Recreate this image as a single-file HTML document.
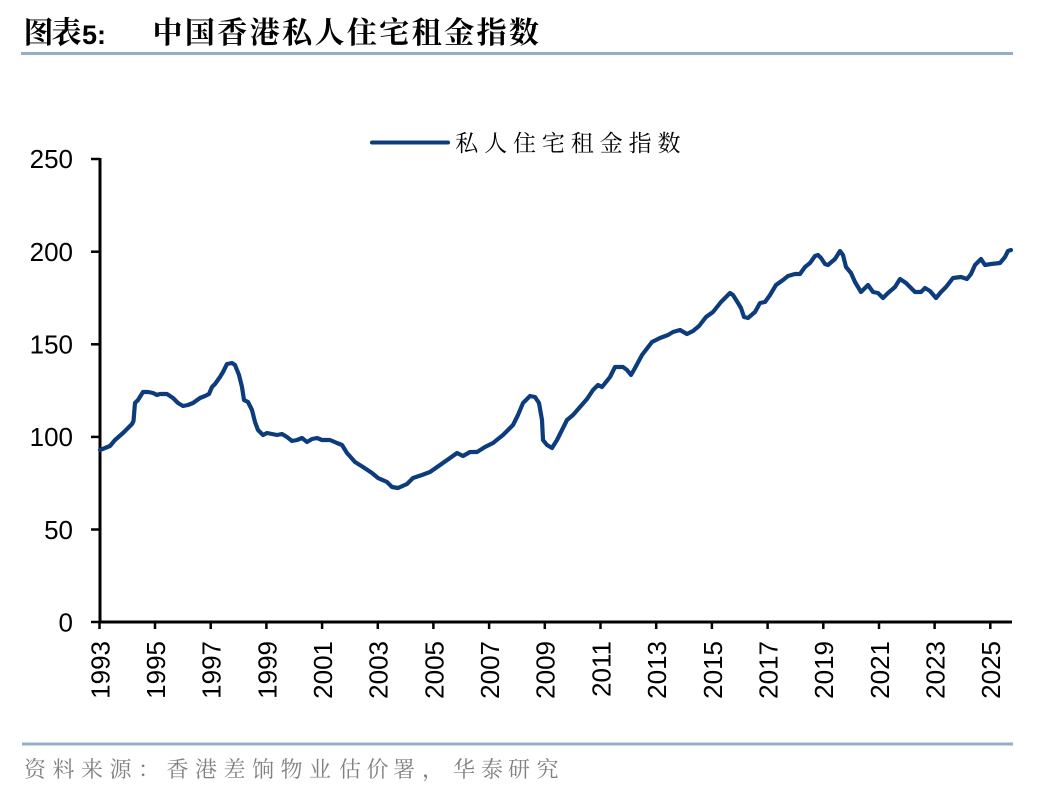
<!DOCTYPE html>
<html>
<head>
<meta charset="utf-8">
<style>
  html,body{margin:0;padding:0;background:#fff;}
  body{width:1048px;height:792px;overflow:hidden;}
  svg{display:block;}
  .cjkT{font-family:"Noto Serif CJK SC","Noto Sans CJK SC",serif;font-weight:700;font-size:30px;fill:#000;}
  .lat{font-family:"Liberation Sans",Arial,sans-serif;}
  .lg{font-family:"Noto Serif CJK SC","Noto Sans CJK SC",serif;font-size:23px;fill:#000;}
  .src{font-family:"Noto Serif CJK SC","Noto Sans CJK SC",serif;font-size:22px;fill:#808080;}
  .ax{font-family:"Liberation Sans",Arial,sans-serif;font-size:26px;fill:#000;}
</style>
</head>
<body>
<svg width="1048" height="792" viewBox="0 0 1048 792" xmlns="http://www.w3.org/2000/svg">
  <!-- Title -->
  <g class="cjkT" text-anchor="middle">
    <text x="38.5" y="43">图</text>
    <text x="66.5" y="43">表</text>
  </g>
  <text x="82" y="44" class="lat" font-weight="700" font-size="27">5:</text>
  <g class="cjkT" text-anchor="middle">
    <text x="167.5" y="43">中</text>
    <text x="199.9" y="43">国</text>
    <text x="232.3" y="43">香</text>
    <text x="264.7" y="43">港</text>
    <text x="297.1" y="43">私</text>
    <text x="329.5" y="43">人</text>
    <text x="361.9" y="43">住</text>
    <text x="394.3" y="43">宅</text>
    <text x="426.7" y="43">租</text>
    <text x="459.1" y="43">金</text>
    <text x="491.5" y="43">指</text>
    <text x="523.9" y="43">数</text>
  </g>
  <line x1="21" y1="53.5" x2="1013" y2="53.5" stroke="#97aec9" stroke-width="3"/>

  <!-- Legend -->
  <line x1="372" y1="142.5" x2="448" y2="142.5" stroke="#0c3c7c" stroke-width="4" stroke-linecap="round"/>
  <g class="lg" text-anchor="middle">
    <text x="466.7" y="151">私</text>
    <text x="495.6" y="151">人</text>
    <text x="524.5" y="151">住</text>
    <text x="553.4" y="151">宅</text>
    <text x="582.3" y="151">租</text>
    <text x="611.2" y="151">金</text>
    <text x="640.1" y="151">指</text>
    <text x="669" y="151">数</text>
  </g>

  <!-- Axes -->
  <line x1="100" y1="158" x2="100" y2="623.5" stroke="#000" stroke-width="3"/>
  <line x1="98.5" y1="622" x2="1012" y2="622" stroke="#000" stroke-width="3"/>
  <g stroke="#000" stroke-width="2.5">
    <line x1="91" y1="159" x2="100" y2="159"/>
    <line x1="91" y1="251.7" x2="100" y2="251.7"/>
    <line x1="91" y1="344.3" x2="100" y2="344.3"/>
    <line x1="91" y1="436.9" x2="100" y2="436.9"/>
    <line x1="91" y1="529.5" x2="100" y2="529.5"/>
    <line x1="91" y1="622" x2="100" y2="622"/>
  </g>
  <g class="ax" text-anchor="end">
    <text x="73" y="168">250</text>
    <text x="73" y="261">200</text>
    <text x="73" y="353.5">150</text>
    <text x="73" y="446">100</text>
    <text x="73" y="539">50</text>
    <text x="73" y="631.5">0</text>
  </g>
  <!-- X ticks -->
  <g stroke="#000" stroke-width="2.5">
    <line x1="99.5" y1="622" x2="99.5" y2="629"/>
    <line x1="155" y1="622" x2="155" y2="629"/>
    <line x1="210.7" y1="622" x2="210.7" y2="629"/>
    <line x1="266.4" y1="622" x2="266.4" y2="629"/>
    <line x1="322.1" y1="622" x2="322.1" y2="629"/>
    <line x1="377.8" y1="622" x2="377.8" y2="629"/>
    <line x1="433.4" y1="622" x2="433.4" y2="629"/>
    <line x1="489.1" y1="622" x2="489.1" y2="629"/>
    <line x1="544.8" y1="622" x2="544.8" y2="629"/>
    <line x1="600.5" y1="622" x2="600.5" y2="629"/>
    <line x1="656.2" y1="622" x2="656.2" y2="629"/>
    <line x1="711.9" y1="622" x2="711.9" y2="629"/>
    <line x1="767.6" y1="622" x2="767.6" y2="629"/>
    <line x1="823.3" y1="622" x2="823.3" y2="629"/>
    <line x1="879" y1="622" x2="879" y2="629"/>
    <line x1="934.6" y1="622" x2="934.6" y2="629"/>
    <line x1="990.3" y1="622" x2="990.3" y2="629"/>
  </g>
  <g class="ax" text-anchor="end">
    <text transform="translate(100,641) rotate(-90)" dy="0.36em">1993</text>
    <text transform="translate(155.5,641) rotate(-90)" dy="0.36em">1995</text>
    <text transform="translate(211.2,641) rotate(-90)" dy="0.36em">1997</text>
    <text transform="translate(266.9,641) rotate(-90)" dy="0.36em">1999</text>
    <text transform="translate(322.6,641) rotate(-90)" dy="0.36em">2001</text>
    <text transform="translate(378.3,641) rotate(-90)" dy="0.36em">2003</text>
    <text transform="translate(433.9,641) rotate(-90)" dy="0.36em">2005</text>
    <text transform="translate(489.6,641) rotate(-90)" dy="0.36em">2007</text>
    <text transform="translate(545.3,641) rotate(-90)" dy="0.36em">2009</text>
    <text transform="translate(601,641) rotate(-90)" dy="0.36em">2011</text>
    <text transform="translate(656.7,641) rotate(-90)" dy="0.36em">2013</text>
    <text transform="translate(712.4,641) rotate(-90)" dy="0.36em">2015</text>
    <text transform="translate(768.1,641) rotate(-90)" dy="0.36em">2017</text>
    <text transform="translate(823.8,641) rotate(-90)" dy="0.36em">2019</text>
    <text transform="translate(879.5,641) rotate(-90)" dy="0.36em">2021</text>
    <text transform="translate(935.1,641) rotate(-90)" dy="0.36em">2023</text>
    <text transform="translate(990.8,641) rotate(-90)" dy="0.36em">2025</text>
  </g>

  <!-- Series -->
  <polyline fill="none" stroke="#0c3c7c" stroke-width="4.2" stroke-linejoin="round" stroke-linecap="round"
    points="100,450 110,446 115,440 123,433 132,424 133.5,421 135,403 138,400 143,392 148,392 153,393 157,395 160,394 167,394 173,398 178,403 183,406 188,405 193,403 200,398 205,396 209,394 212,387 215,384 220,377 223,372 227,364 232,363 235,365 239,375 242,387 244,400 248,402 252,410 255,422 258,430 263,435 267,433 272,434 277,435 282,434 287,437 292,441 297,440 302,438 307,442 312,439 317,438 322,440 330,440 337,443 342,445 347,453 355,462 363,467 372,473 378,478 387,482 392,487 398,488 407,484 413,478 422,475 430,472 440,465 450,458 457,453 463,456 470,452 477,452 485,447 493,443 503,435 513,425 518,415 523,403 530,396 535,397 539,403 542,420 543,440 547,445 552,448 557,440 562,430 567,420 573,415 580,407 587,399 593,390 598,385 602,387 610,377 615,367 623,367 627,370 631,375 635,368 642,355 652,342 660,338 668,335 673,332 680,330 687,334 693,331 699,326 706,317 713,312 721,302 730,293 733,295 738,303 741,308 744,317 748,318 755,312 760,303 765,302 770,295 776,285 783,280 788,276 795,274 800,274 805,267 810,263 815,256 818,255 821,258 825,264 828,265 835,259 840,251 843,255 846,267 851,273 855,282 861,292 868,285 873,292 878,293 883,298 888,293 895,287 900,279 906,283 915,292 921,292 925,288 930,291 936,298 941,292 946,287 953,278 961,277 967,279 971,274 975,265 981,259 985,265 991,264 1000,263 1005,257 1008,251 1011,250"/>

  <!-- Footer -->
  <line x1="22" y1="744" x2="1013" y2="744" stroke="#97aec9" stroke-width="3"/>
  <g class="src" text-anchor="middle">
    <text x="35" y="777">资</text>
    <text x="63.5" y="777">料</text>
    <text x="92" y="777">来</text>
    <text x="120.5" y="777">源</text>
    <text x="149" y="777">：</text>
    <text x="177.5" y="777">香</text>
    <text x="206" y="777">港</text>
    <text x="234.5" y="777">差</text>
    <text x="263" y="777">饷</text>
    <text x="291.5" y="777">物</text>
    <text x="320" y="777">业</text>
    <text x="350" y="777">估</text>
    <text x="377.5" y="777">价</text>
    <text x="404" y="777">署</text>
    <text x="433" y="777">，</text>
    <text x="464" y="777">华</text>
    <text x="492" y="777">泰</text>
    <text x="519" y="777">研</text>
    <text x="547.5" y="777">究</text>
  </g>
</svg>
</body>
</html>
